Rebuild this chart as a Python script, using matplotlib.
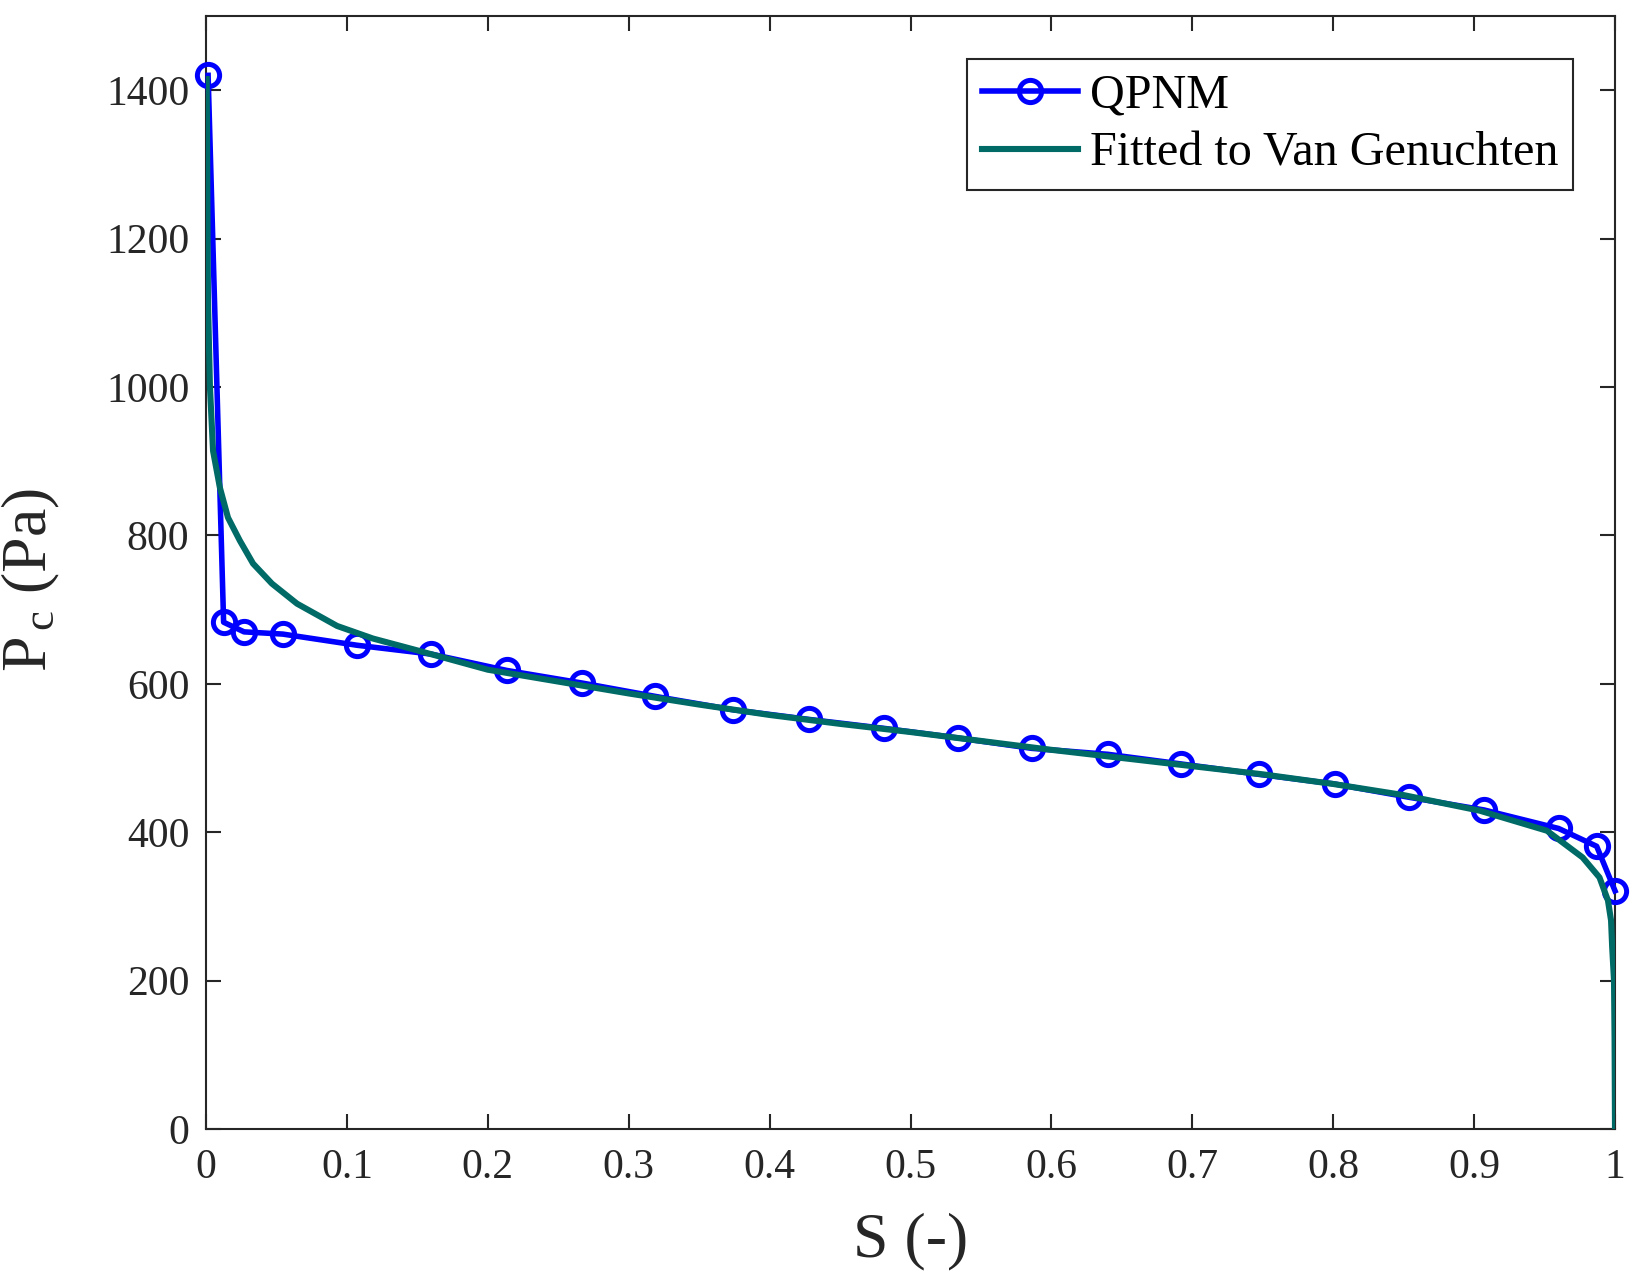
import matplotlib
matplotlib.use("Agg")
import matplotlib.pyplot as plt

# QPNM data
s_qpnm = [0.0015, 0.0125, 0.027, 0.0545, 0.107, 0.160, 0.2135, 0.267, 0.319, 0.374,
          0.428, 0.481, 0.534, 0.586, 0.640, 0.692, 0.747, 0.801, 0.854, 0.907,
          0.960, 0.987, 1.0]
pc_qpnm = [1420, 683, 670, 667, 652, 640, 618, 601, 583, 565,
           552, 540, 527, 513, 505, 492, 478, 465, 447, 430,
           405, 381, 321]

# Fitted Van Genuchten curve
s_vg = [0.0005, 0.0014, 0.0028, 0.005, 0.0099, 0.0156, 0.024, 0.0334, 0.0468, 0.0646,
        0.093, 0.1185, 0.150, 0.2, 0.25, 0.3, 0.35, 0.4, 0.45, 0.5,
        0.55, 0.6, 0.65, 0.7, 0.75, 0.8, 0.85, 0.904, 0.9517, 0.977,
        0.989, 0.995, 0.9972, 0.998, 0.9993, 0.9997, 1.0]
pc_vg = [1415, 1116, 1000, 914, 864, 824, 793, 762, 735, 708,
         678, 661, 645, 619, 603, 587, 572, 558, 546, 535,
         523, 511, 500, 489, 478, 465, 450, 429, 402, 366,
         339, 308, 281, 245, 200, 120, 0]

x_ticks = [0, 0.1, 0.2, 0.3, 0.4, 0.5, 0.6, 0.7, 0.8, 0.9, 1]
x_tick_labels = ["0", "0.1", "0.2", "0.3", "0.4", "0.5", "0.6", "0.7", "0.8", "0.9", "1"]
y_ticks = [0, 200, 400, 600, 800, 1000, 1200, 1400]

plt.rcParams['font.family'] = ['Liberation Serif', 'DejaVu Serif']
plt.rcParams['mathtext.fontset'] = 'custom'
plt.rcParams['mathtext.rm'] = 'Liberation Serif'
plt.rcParams['mathtext.it'] = 'Liberation Serif:italic'

fig = plt.figure(figsize=(16.32, 12.79), dpi=100)
ax = fig.add_axes([206/1632, 1 - 1129/1279, (1615-206)/1632, (1129-16)/1279])

dark = '#262626'
ax.plot(s_qpnm, pc_qpnm, color='#0000ff', lw=4, marker='o', ms=16,
        mfc='none', mec='#0000ff', mew=3.6, label='QPNM', zorder=3, clip_on=False)
ax.plot(s_vg, pc_vg, color='#006b66', lw=4.4, label='Fitted to Van Genuchten', zorder=4)

ax.set_xlim(0, 1)
ax.set_ylim(0, 1500)
ax.set_xticks(x_ticks)
ax.set_xticklabels(x_tick_labels)
ax.set_yticks(y_ticks)

for sp in ax.spines.values():
    sp.set_color(dark)
    sp.set_linewidth(1.5)
ax.tick_params(direction='in', length=11, width=1.5, color=dark, labelcolor=dark,
               labelsize=30, top=True, right=True)
ax.tick_params(axis='x', pad=14)
ax.tick_params(axis='y', pad=12)

ax.set_xlabel('S (-)', fontsize=46, color=dark, va='center')
ax.xaxis.set_label_coords(0.5, -0.1006)
ax.set_ylabel(r'P$_{\,\mathrm{c}}$ (Pa)', fontsize=46, color=dark, va='center')
ax.yaxis.set_label_coords(-0.1242, 0.493)

leg = ax.legend(loc='upper right', bbox_to_anchor=(0.9702, 0.9614), borderaxespad=0,
                fontsize=34.7, handlelength=2.0, handletextpad=0.25, borderpad=0.3,
                labelspacing=0.3, fancybox=False, framealpha=1)
leg.get_frame().set_edgecolor(dark)
leg.get_frame().set_linewidth(1.5)

fig.savefig('out.png', dpi=100)
